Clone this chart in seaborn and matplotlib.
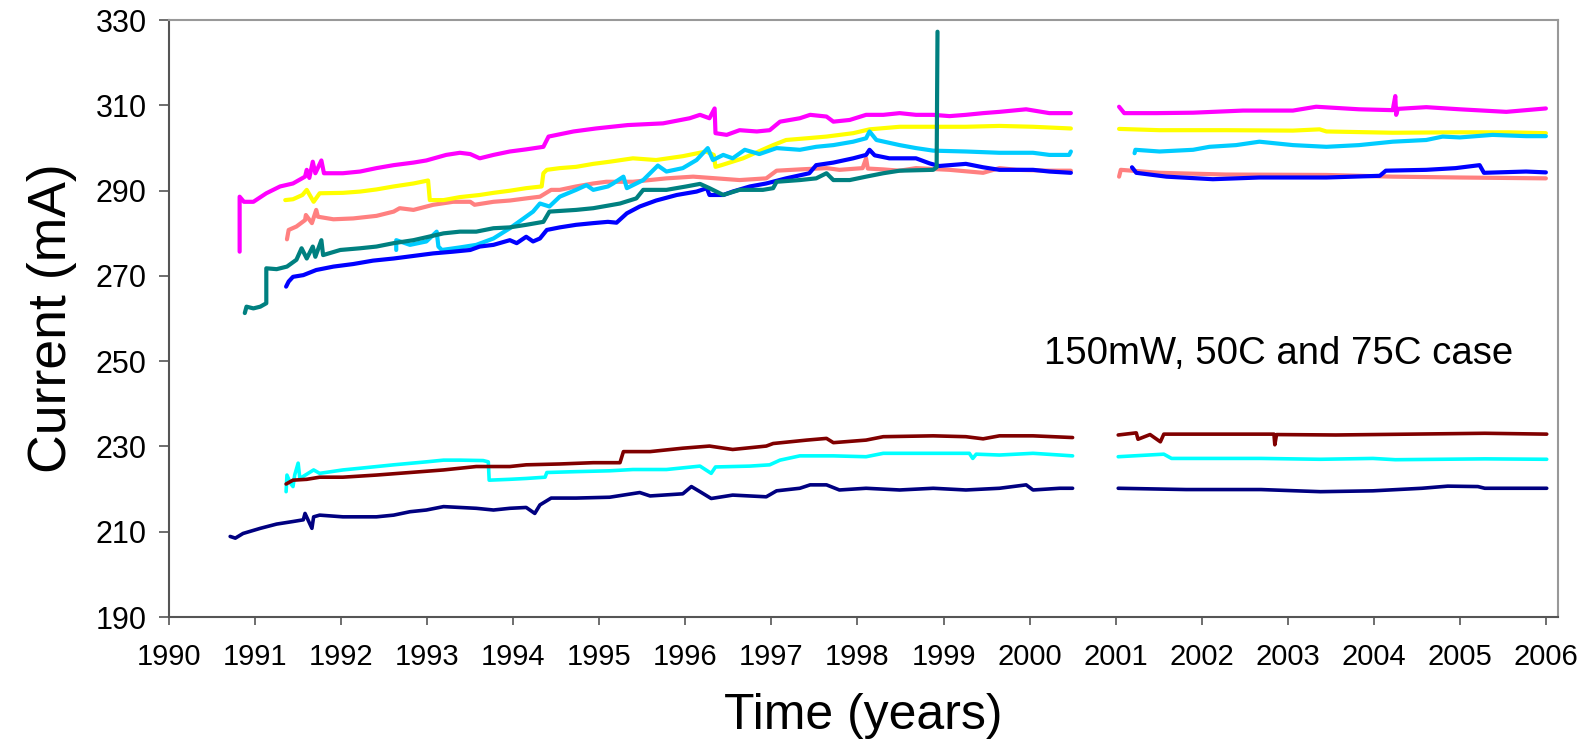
import numpy as np
import pandas as pd
import matplotlib
matplotlib.use("Agg")
import matplotlib.pyplot as plt
import seaborn as sns

# ---------------- data ----------------
salmon_years = [1991.37, 1991.39, 1991.48, 1991.58, 1991.59, 1991.66, 1991.71, 1991.73, 1991.91, 1992.14,
                1992.41, 1992.61, 1992.68, 1992.84, 1993.07, 1993.30, 1993.50, 1993.55, 1993.77, 1993.96,
                1994.15, 1994.31, 1994.44, 1994.54, 1994.73, 1994.93, 1995.08, 1995.24, 1995.39, 1995.78,
                1996.09, 1996.36, 1996.63, 1996.94, 1997.06, 1997.33, 1997.64, 1997.79, 1998.06, 1998.10,
                1998.12, 1998.30, 1998.49, 1998.68, 1999.07, 1999.46, 1999.65, 1999.85, 2000.23, 2000.48,
                2001.04, 2001.06, 2001.51, 2002.28, 2003.45, 2004.22, 2005.00, 2006.00]
salmon_mA = [278.6, 280.8, 281.6, 283.1, 284.3, 282.4, 285.5, 283.9, 283.3, 283.5,
             284.1, 285.1, 285.9, 285.5, 286.7, 287.4, 287.4, 286.7, 287.4, 287.7,
             288.2, 288.6, 290.2, 290.2, 291.0, 291.7, 292.1, 292.1, 292.1, 292.9,
             293.3, 292.9, 292.5, 292.9, 294.7, 295.0, 295.3, 294.9, 295.3, 297.6,
             295.2, 295.0, 294.7, 295.3, 294.9, 294.2, 295.3, 294.9, 294.7, 294.7,
             293.3, 294.9, 294.2, 293.8, 293.7, 293.3, 293.1, 292.9]

magenta_years = [1990.82, 1990.82, 1990.87, 1990.98, 1991.13, 1991.29, 1991.44, 1991.58, 1991.60, 1991.63,
                 1991.67, 1991.70, 1991.77, 1991.80, 1991.83, 1992.02, 1992.22, 1992.41, 1992.61, 1992.84,
                 1992.99, 1993.22, 1993.38, 1993.50, 1993.61, 1993.77, 1993.96, 1994.15, 1994.35, 1994.41,
                 1994.70, 1994.96, 1995.33, 1995.74, 1996.05, 1996.17, 1996.28, 1996.34, 1996.35, 1996.48,
                 1996.63, 1996.83, 1996.98, 1997.10, 1997.33, 1997.45, 1997.64, 1997.72, 1997.91, 1998.10,
                 1998.30, 1998.49, 1998.68, 1998.88, 1999.07, 1999.26, 1999.46, 1999.65, 1999.96, 2000.23,
                 2000.48,
                 2001.04, 2001.10, 2001.47, 2001.90, 2002.48, 2003.06, 2003.33, 2003.83, 2004.22, 2004.25,
                 2004.26, 2004.28, 2004.61, 2005.00, 2005.54, 2006.00]
magenta_mA = [275.7, 288.6, 287.4, 287.4, 289.4, 291.0, 291.7, 293.3, 294.9, 293.0,
              296.8, 294.1, 297.1, 294.1, 294.1, 294.1, 294.5, 295.3, 296.0, 296.6,
              297.1, 298.4, 298.9, 298.6, 297.6, 298.4, 299.2, 299.7, 300.3, 302.7,
              303.9, 304.6, 305.4, 305.8, 307.0, 307.8, 307.0, 309.3, 303.5, 303.1,
              304.2, 303.9, 304.2, 306.2, 307.0, 307.8, 307.4, 306.2, 306.6, 307.8,
              307.8, 308.2, 307.8, 307.8, 307.5, 307.8, 308.2, 308.5, 309.1, 308.2,
              308.2,
              309.7, 308.2, 308.2, 308.3, 308.8, 308.8, 309.7, 309.1, 308.9, 312.2,
              307.8, 309.2, 309.6, 309.1, 308.5, 309.3]

yellow_years = [1991.35, 1991.44, 1991.55, 1991.60, 1991.68, 1991.75, 1992.02, 1992.22, 1992.41, 1992.61,
                1992.84, 1993.01, 1993.03, 1993.19, 1993.38, 1993.61, 1993.77, 1993.96, 1994.15, 1994.33,
                1994.35, 1994.39, 1994.54, 1994.73, 1994.93, 1995.12, 1995.39, 1995.66, 1995.97, 1996.24,
                1996.33, 1996.35, 1996.42, 1996.67, 1997.02, 1997.17, 1997.41, 1997.64, 1997.95, 1998.14,
                1998.49, 1998.88, 1999.26, 1999.65, 2000.04, 2000.48,
                2001.04, 2001.51, 2002.28, 2003.06, 2003.37, 2003.45, 2004.22, 2005.00, 2005.57, 2006.00]
yellow_mA = [287.8, 288.0, 289.0, 290.2, 287.4, 289.4, 289.5, 289.8, 290.3, 291.0,
             291.7, 292.4, 287.8, 287.8, 288.5, 289.0, 289.5, 290.0, 290.6, 291.0,
             294.1, 294.9, 295.3, 295.6, 296.3, 296.8, 297.6, 297.2, 298.1, 299.2,
             298.4, 295.6, 296.0, 297.6, 300.7, 301.9, 302.3, 302.7, 303.5, 304.4,
             305.0, 305.0, 305.0, 305.2, 305.0, 304.6,
             304.5, 304.2, 304.2, 304.1, 304.4, 303.9, 303.6, 303.7, 303.7, 303.5]

skyblue_years = [1992.64, 1992.64, 1992.80, 1992.99, 1993.11, 1993.13, 1993.17, 1993.38, 1993.57, 1993.77,
                 1993.96, 1994.12, 1994.23, 1994.31, 1994.42, 1994.54, 1994.73, 1994.85, 1994.93, 1995.10,
                 1995.16, 1995.28, 1995.32, 1995.51, 1995.63, 1995.68, 1995.78, 1995.97, 1996.13, 1996.26,
                 1996.32, 1996.44, 1996.55, 1996.69, 1996.86, 1997.06, 1997.33, 1997.52, 1997.72, 1997.95,
                 1998.10, 1998.14, 1998.22, 1998.49, 1998.68, 1998.88, 1999.26, 1999.65, 2000.04, 2000.23,
                 2000.46, 2000.48,
                 2001.22, 2001.23, 2001.51, 2001.90, 2002.09, 2002.40, 2002.67, 2003.06, 2003.45, 2003.83,
                 2004.22, 2004.61, 2004.80, 2005.00, 2005.38, 2005.77, 2006.00]
skyblue_mA = [276.1, 278.4, 277.3, 278.1, 280.4, 276.9, 276.1, 276.7, 277.3, 278.8,
              281.2, 283.5, 285.1, 287.0, 286.3, 288.6, 290.2, 291.3, 290.2, 291.0,
              291.7, 293.3, 290.6, 292.5, 294.9, 295.9, 294.5, 295.3, 297.2, 300.0,
              297.2, 298.4, 297.6, 299.6, 298.6, 300.0, 299.6, 300.3, 300.7, 301.5,
              302.3, 303.9, 301.9, 300.7, 300.0, 299.4, 299.2, 298.9, 298.9, 298.4,
              298.4, 299.2,
              298.8, 299.6, 299.2, 299.6, 300.3, 300.7, 301.5, 300.7, 300.3, 300.7,
              301.5, 301.9, 302.7, 302.5, 303.1, 302.8, 302.8]

blue_years = [1991.36, 1991.39, 1991.44, 1991.56, 1991.71, 1991.91, 1992.14, 1992.37, 1992.61, 1992.84,
              1993.07, 1993.30, 1993.50, 1993.61, 1993.77, 1993.96, 1994.04, 1994.15, 1994.23, 1994.31,
              1994.39, 1994.54, 1994.73, 1994.93, 1995.10, 1995.20, 1995.32, 1995.47, 1995.66, 1995.90,
              1996.13, 1996.25, 1996.28, 1996.44, 1996.55, 1996.75, 1996.94, 1997.17, 1997.44, 1997.52,
              1997.72, 1997.95, 1998.10, 1998.14, 1998.20, 1998.37, 1998.68, 1998.84, 1998.95, 1999.26,
              1999.46, 1999.65, 2000.04, 2000.23, 2000.48,
              2001.19, 2001.24, 2001.59, 2002.13, 2002.67, 2003.45, 2004.07, 2004.14, 2004.61, 2004.95,
              2005.23, 2005.28, 2005.77, 2006.00]
blue_mA = [267.5, 268.7, 269.8, 270.2, 271.4, 272.2, 272.8, 273.6, 274.1, 274.7,
           275.3, 275.7, 276.1, 276.9, 277.3, 278.4, 277.7, 279.2, 278.1, 278.8,
           280.8, 281.4, 282.0, 282.4, 282.7, 282.5, 284.7, 286.3, 287.7, 289.0,
           289.8, 290.6, 289.0, 289.0, 289.8, 291.0, 291.7, 292.9, 294.1, 296.0,
           296.6, 297.6, 298.4, 299.6, 298.3, 297.6, 297.6, 296.4, 295.8, 296.3,
           295.5, 294.9, 294.9, 294.5, 294.2,
           295.5, 294.2, 293.3, 292.7, 293.1, 293.1, 293.5, 294.7, 294.9, 295.3,
           296.0, 294.2, 294.5, 294.3]

teal_years = [1990.88, 1990.90, 1990.98, 1991.06, 1991.13, 1991.13, 1991.25, 1991.37, 1991.48, 1991.54,
              1991.60, 1991.67, 1991.70, 1991.77, 1991.79, 1991.99, 1992.22, 1992.41, 1992.61, 1992.84,
              1993.19, 1993.38, 1993.57, 1993.77, 1993.96, 1994.15, 1994.35, 1994.42, 1994.73, 1994.93,
              1995.10, 1995.24, 1995.43, 1995.51, 1995.78, 1996.01, 1996.17, 1996.28, 1996.44, 1996.63,
              1996.90, 1997.02, 1997.06, 1997.33, 1997.52, 1997.64, 1997.72, 1997.91, 1998.10, 1998.30,
              1998.49, 1998.88, 1998.92, 1998.93]
teal_mA = [261.3, 262.8, 262.4, 262.8, 263.6, 271.8, 271.6, 272.2, 273.8, 276.5,
           274.1, 276.9, 274.5, 278.4, 274.9, 276.1, 276.5, 276.9, 277.7, 278.4,
           280.0, 280.4, 280.4, 281.2, 281.4, 282.0, 282.7, 285.1, 285.5, 285.9,
           286.5, 287.0, 288.2, 290.2, 290.2, 291.0, 291.6, 290.6, 289.0, 290.2,
           290.2, 290.6, 292.1, 292.5, 292.9, 294.1, 292.5, 292.5, 293.3, 294.1,
           294.7, 294.9, 295.5, 327.3]

cyan_years = [1991.36, 1991.37, 1991.41, 1991.44, 1991.46, 1991.50, 1991.52, 1991.68, 1991.75, 1992.02,
              1992.22, 1992.61, 1992.99, 1993.19, 1993.38, 1993.65, 1993.71, 1993.72, 1993.96, 1994.15,
              1994.37, 1994.39, 1994.73, 1995.12, 1995.39, 1995.78, 1996.17, 1996.30, 1996.35, 1996.75,
              1996.98, 1997.10, 1997.33, 1997.72, 1998.10, 1998.30, 1998.88, 1999.30, 1999.34, 1999.38,
              1999.65, 2000.04, 2000.35, 2000.50,
              2001.03, 2001.56, 2001.65, 2002.69, 2003.38, 2003.99, 2004.25, 2005.29, 2006.01]
cyan_mA = [219.4, 223.3, 221.4, 220.6, 223.3, 226.1, 222.5, 224.5, 223.7, 224.5,
           224.9, 225.7, 226.4, 226.8, 226.8, 226.7, 226.4, 222.1, 222.3, 222.5,
           222.8, 223.9, 224.1, 224.3, 224.6, 224.6, 225.4, 223.7, 225.2, 225.4,
           225.7, 226.8, 227.8, 227.8, 227.6, 228.4, 228.4, 228.4, 227.2, 228.2,
           228.0, 228.4, 228.0, 227.8,
           227.6, 228.2, 227.2, 227.2, 227.0, 227.2, 226.9, 227.1, 227.0]

maroon_years = [1991.36, 1991.44, 1991.60, 1991.75, 1992.02, 1992.41, 1992.80, 1993.19, 1993.57, 1993.96,
                1994.15, 1994.54, 1994.93, 1995.24, 1995.28, 1995.59, 1995.97, 1996.28, 1996.55, 1996.94,
                1997.02, 1997.41, 1997.64, 1997.72, 1998.10, 1998.30, 1998.88, 1999.26, 1999.46, 1999.65,
                2000.04, 2000.50,
                2001.03, 2001.24, 2001.26, 2001.40, 2001.52, 2001.56, 2002.26, 2002.84, 2002.85, 2002.87,
                2003.56, 2004.43, 2005.29, 2006.01]
maroon_mA = [221.2, 222.1, 222.3, 222.8, 222.8, 223.3, 223.9, 224.5, 225.3, 225.3,
             225.7, 225.9, 226.2, 226.2, 228.8, 228.8, 229.6, 230.1, 229.3, 230.1,
             230.7, 231.5, 231.9, 230.9, 231.5, 232.3, 232.5, 232.3, 231.8, 232.5,
             232.5, 232.1,
             232.7, 233.2, 231.7, 232.8, 231.1, 232.9, 232.9, 232.9, 230.4, 232.8,
             232.7, 232.9, 233.1, 232.9]

navy_years = [1990.71, 1990.77, 1990.86, 1991.06, 1991.25, 1991.44, 1991.56, 1991.58, 1991.66, 1991.68,
              1991.75, 1992.02, 1992.41, 1992.61, 1992.80, 1992.99, 1993.19, 1993.57, 1993.77, 1993.96,
              1994.15, 1994.25, 1994.31, 1994.44, 1994.73, 1995.12, 1995.47, 1995.59, 1995.97, 1996.07,
              1996.17, 1996.30, 1996.55, 1996.94, 1997.06, 1997.33, 1997.45, 1997.64, 1997.79, 1998.10,
              1998.49, 1998.88, 1999.26, 1999.65, 1999.96, 2000.04, 2000.35, 2000.50,
              2001.03, 2001.82, 2002.69, 2003.38, 2003.99, 2004.56, 2004.86, 2005.21, 2005.29, 2006.01]
navy_mA = [208.9, 208.5, 209.6, 210.8, 211.8, 212.4, 212.8, 214.3, 210.8, 213.5,
           213.9, 213.5, 213.5, 213.9, 214.7, 215.1, 215.9, 215.5, 215.1, 215.5,
           215.7, 214.3, 216.3, 217.9, 217.9, 218.1, 219.2, 218.4, 218.9, 220.6,
           219.4, 217.8, 218.6, 218.2, 219.6, 220.2, 221.0, 221.0, 219.8, 220.2,
           219.8, 220.2, 219.8, 220.2, 221.0, 219.8, 220.2, 220.2,
           220.2, 219.9, 219.9, 219.4, 219.6, 220.2, 220.7, 220.6, 220.2, 220.2]

series_names = ["salmon", "magenta", "yellow", "skyblue", "blue", "teal", "cyan", "maroon", "navy"]
series_colors = ["#FF8080", "#FF00FF", "#FFFF00", "#00CCFF", "#0000FF", "#008080", "#00FFFF", "#800000", "#000080"]
x_ticks = list(range(1990, 2007))
y_ticks = list(range(190, 331, 20))
annotation = "150mW, 50C and 75C case"

series_data = {
    "salmon": (salmon_years, salmon_mA), "magenta": (magenta_years, magenta_mA),
    "yellow": (yellow_years, yellow_mA), "skyblue": (skyblue_years, skyblue_mA),
    "blue": (blue_years, blue_mA), "teal": (teal_years, teal_mA),
    "cyan": (cyan_years, cyan_mA), "maroon": (maroon_years, maroon_mA),
    "navy": (navy_years, navy_mA),
}

frames = []
for name in series_names:
    yrs, vals = series_data[name]
    d = pd.DataFrame({"year": yrs, "mA": vals})
    d["series"] = name
    d["segment"] = name + np.where(d["year"] > 2000.75, "_b", "_a")
    frames.append(d)
df = pd.concat(frames, ignore_index=True)

# ---------------- plot ----------------
sns.set_style("white")
plt.rcParams["font.family"] = ["Liberation Sans", "DejaVu Sans"]
plt.rcParams["text.color"] = "black"
plt.rcParams["axes.labelcolor"] = "black"

fig = plt.figure(figsize=(15.86, 7.40), dpi=100)
ax = fig.add_axes([0.1066, 0.1662, 0.8757, 0.8065])

palette = dict(zip(series_names, series_colors))
upper = df[df["series"].isin(series_names[:6])]
lower = df[df["series"].isin(series_names[6:])]
sns.lineplot(data=upper, x="year", y="mA", hue="series", hue_order=series_names[:6],
             units="segment", estimator=None, sort=False, palette=palette,
             linewidth=3.0, legend=False, ax=ax)
sns.lineplot(data=lower, x="year", y="mA", hue="series", hue_order=series_names[6:],
             units="segment", estimator=None, sort=False, palette=palette,
             linewidth=2.6, legend=False, ax=ax)

ax.set_xlim(1990, 2006.14)
ax.set_ylim(190, 330)
ax.set_xticks(x_ticks)
ax.set_yticks(y_ticks)
ax.set_xticklabels([str(t) for t in x_ticks], fontsize=21)
ax.set_yticklabels([str(t) for t in y_ticks], fontsize=22)
ax.tick_params(axis="x", which="major", bottom=True, direction="out", length=6, width=1.2,
               color="#555555", labelcolor="black", pad=13)
ax.tick_params(axis="y", which="major", left=True, direction="out", length=7, width=1.2,
               color="#555555", labelcolor="black", pad=9)

for side in ["left", "bottom"]:
    ax.spines[side].set_color("#555555")
    ax.spines[side].set_linewidth(1.5)
for side in ["top", "right"]:
    ax.spines[side].set_color("#999999")
    ax.spines[side].set_linewidth(1.5)

ax.set_xlabel("Time (years)", fontsize=36, color="black")
ax.set_ylabel("Current (mA)", fontsize=38.5, color="black")
ax.xaxis.set_label_coords(0.5, -0.128)
ax.yaxis.set_label_coords(-0.066, 0.5)

ax.text(2000.17, 251.6, annotation, fontsize=27.6, va="center", ha="left", color="black")

fig.savefig("out.png", dpi=100)
